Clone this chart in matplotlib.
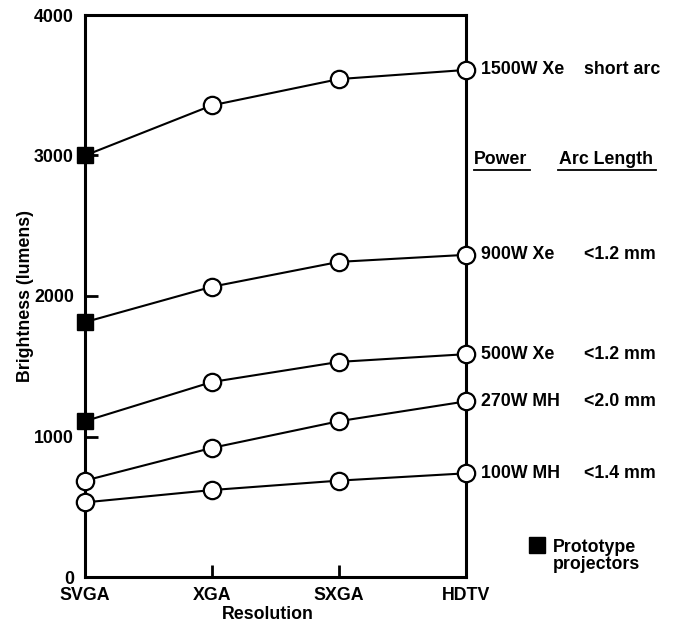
import matplotlib.pyplot as plt
from matplotlib.lines import Line2D

plt.rcParams['font.family'] = ['Liberation Sans', 'DejaVu Sans']
plt.rcParams['font.weight'] = 'bold'

resolutions = ['SVGA', 'XGA', 'SXGA', 'HDTV']
lamps = ['1500W Xe', '900W Xe', '500W Xe', '270W MH', '100W MH']
arc_lengths = ['short arc', '<1.2 mm', '<1.2 mm', '<2.0 mm', '<1.4 mm']
brightness = [
    [3000, 3357, 3544, 3609],
    [1814, 2066, 2243, 2293],
    [1109, 1388, 1531, 1586],
    [686, 919, 1109, 1250],
    [531, 619, 686, 738],
]
# first point is a prototype projector (filled square)
prototype = [True, True, True, False, False]

FS = 12.8
W, H = 674, 623
fig = plt.figure(figsize=(W / 100, H / 100), dpi=100)
ax = fig.add_axes([85 / W, 1 - 577 / H, 381 / W, 562 / H])

x = list(range(len(resolutions)))
for vals, name, arc, proto in zip(brightness, lamps, arc_lengths, prototype):
    ax.plot(x, vals, color='black', lw=1.5, zorder=2, clip_on=False)
    start = 1 if proto else 0
    ax.plot(x[start:], vals[start:], 'o', ms=12.5, mfc='white', mec='black',
            mew=1.6, zorder=3, clip_on=False)
    if proto:
        ax.plot(x[0], vals[0], 's', ms=12, color='black', zorder=3, clip_on=False)
    ax.annotate(name, xy=(x[-1], vals[-1]), xytext=(15, 0), textcoords='offset pixels',
                va='center', ha='left', fontsize=FS, fontweight='bold', annotation_clip=False)
    ax.annotate(arc, xy=(x[-1], vals[-1]), xytext=(118, 0), textcoords='offset pixels',
                va='center', ha='left', fontsize=FS, fontweight='bold', annotation_clip=False)

ax.set_xlim(0, 3)
ax.set_ylim(0, 4000)
ax.set_xticks(x)
ax.set_xticklabels(resolutions)
ax.set_yticks([0, 1000, 2000, 3000, 4000])
ax.tick_params(direction='in', length=9, width=2, labelsize=FS, pad=8)
ax.tick_params(axis='x', pad=7.5)
for lbl in ax.get_xticklabels() + ax.get_yticklabels():
    lbl.set_fontweight('bold')
for sp in ax.spines.values():
    sp.set_linewidth(2.2)

ax.set_xlabel('Resolution', fontsize=FS, fontweight='bold')
ax.xaxis.set_label_coords(0.48, -0.051)
ax.set_ylabel('Brightness (lumens)', fontsize=FS, fontweight='bold')
ax.yaxis.set_label_coords(-0.135, 0.5)

# column headers with underlines
fig.text(474 / W, 1 - 159 / H, 'Power', fontsize=FS, fontweight='bold', va='center')
fig.text(559 / W, 1 - 159 / H, 'Arc Length', fontsize=FS, fontweight='bold', va='center')
fig.add_artist(Line2D([474 / W, 530 / W], [1 - 170 / H] * 2, color='black', lw=1.3))
fig.add_artist(Line2D([558 / W, 656 / W], [1 - 170 / H] * 2, color='black', lw=1.3))

# prototype key
fig.add_artist(Line2D([537 / W], [1 - 545 / H], marker='s', ms=12, color='black'))
fig.text(553 / W, 1 - 556 / H, 'Prototype\nprojectors', fontsize=FS, fontweight='bold',
         va='center', ha='left', linespacing=1.0)

fig.savefig('out.png', dpi=100)
